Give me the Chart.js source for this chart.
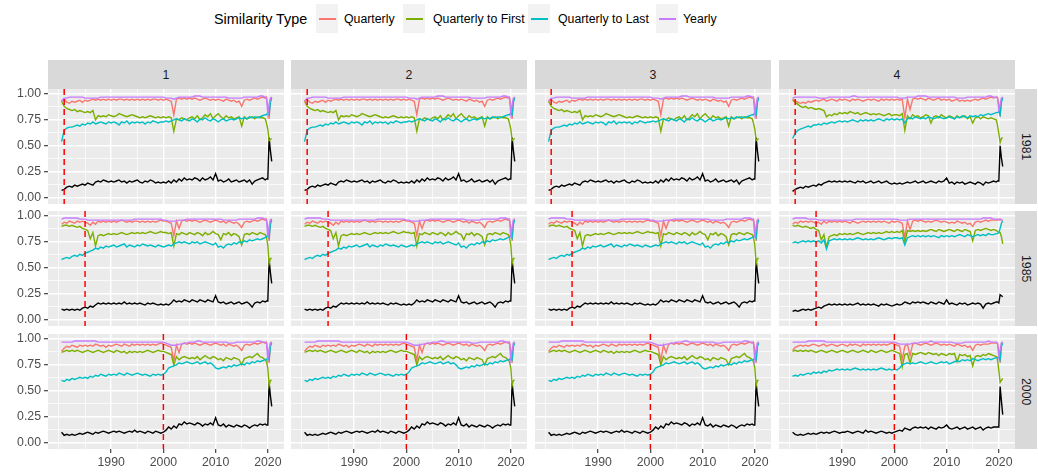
<!DOCTYPE html>
<html>
<head>
<meta charset="utf-8">
<script src="https://cdn.jsdelivr.net/npm/chart.js@4.4.0/dist/chart.umd.min.js"></script>
<style>
  body { margin: 0; width: 1038px; height: 474px; background: #fff; position: relative; overflow: hidden;
         font-family: "Liberation Sans", Arial, sans-serif; }
  canvas { position: absolute; }
  .strip { position: absolute; background: #D9D9D9; color: #1A1A1A; font-size: 12.3px;
           display: flex; align-items: center; justify-content: center; }
  .vtext { writing-mode: vertical-rl; }
  .key { position: absolute; top: 4px; width: 22px; height: 29px; background: #F2F2F2; }
  .key span { position: absolute; left: 3px; width: 17px; top: 14px; height: 1.5px; }
  .lab { position: absolute; top: 10px; font-size: 12.3px; line-height: 18px; color: #000; white-space: nowrap; }
</style>
</head>
<body>
<div class="lab" style="left:214px;top:8px;font-size:14.4px;line-height:22px;">Similarity Type</div>
<div id="legend"></div>
<script>
// Zeitachse: Halbjahre 1980.5 - 2019.5, dann Quartale bis 2020.75
const periods = [];
for (let y = 1980.5; y <= 2019.5; y += 0.5) periods.push(y);
periods.push(2019.75, 2020, 2020.25, 2020.5, 2020.75);

const colLabels = ['1', '2', '3', '4'];
const rowLabels = ['1981', '1985', '2000'];
const breakYears = [1981, 1985, 2000];
const seriesNames = ['Quarterly', 'Quarterly to First', 'Quarterly to Last', 'Yearly'];
const seriesColors = ['#F8766D', '#7CAE00', '#00BFC4', '#C77CFF'];
const xTicks = [1980, 1985, 1990, 1995, 2000, 2005, 2010, 2015, 2020];
const xLabelTicks = [1990, 2000, 2010, 2020];
const yTicks = [0, 0.125, 0.25, 0.375, 0.5, 0.625, 0.75, 0.875, 1];
const yLabelTicks = [0, 0.25, 0.5, 0.75, 1];

// ---- Zeile 1981, Spalten 1-3 ----
const r1aQuarterly = [
  0.93, 0.95, 0.92, 0.91, 0.93, 0.92, 0.93, 0.94, 0.92, 0.94,
  0.93, 0.94, 0.95, 0.94, 0.95, 0.94, 0.95, 0.94, 0.95, 0.94,
  0.95, 0.94, 0.95, 0.95, 0.94, 0.95, 0.94, 0.95, 0.94, 0.95,
  0.94, 0.95, 0.94, 0.95, 0.94, 0.95, 0.95, 0.94, 0.95, 0.94,
  0.95, 0.94, 0.93, 0.80, 0.95, 0.96, 0.95, 0.96, 0.95, 0.96,
  0.95, 0.96, 0.95, 0.94, 0.95, 0.96, 0.95, 0.94, 0.95, 0.94,
  0.95, 0.94, 0.93, 0.95, 0.94, 0.93, 0.94, 0.92, 0.93, 0.88,
  0.94, 0.95, 0.94, 0.95, 0.96, 0.95, 0.96, 0.97, 0.96,
  0.97, 0.88, 0.76, 0.95, 0.97];
const r1aToFirst = [
  0.93, 0.88, 0.86, 0.85, 0.84, 0.85, 0.83, 0.84, 0.83, 0.82,
  0.83, 0.82, 0.84, 0.75, 0.79, 0.78, 0.79, 0.78, 0.80, 0.79,
  0.78, 0.79, 0.81, 0.80, 0.79, 0.78, 0.79, 0.80, 0.79, 0.78,
  0.77, 0.78, 0.77, 0.78, 0.79, 0.78, 0.77, 0.78, 0.77, 0.78,
  0.77, 0.78, 0.77, 0.64, 0.76, 0.75, 0.77, 0.76, 0.75, 0.77,
  0.78, 0.76, 0.79, 0.75, 0.77, 0.80, 0.78, 0.81, 0.76, 0.79,
  0.81, 0.78, 0.76, 0.79, 0.77, 0.78, 0.76, 0.77, 0.78, 0.69,
  0.78, 0.76, 0.77, 0.78, 0.76, 0.78, 0.77, 0.77, 0.76,
  0.72, 0.66, 0.55, 0.56, 0.57];
const r1aToLast = [
  0.54, 0.65, 0.67, 0.68, 0.68, 0.69, 0.70, 0.69, 0.71, 0.70,
  0.72, 0.71, 0.73, 0.71, 0.72, 0.73, 0.72, 0.71, 0.73, 0.72,
  0.73, 0.72, 0.70, 0.73, 0.72, 0.74, 0.71, 0.73, 0.72, 0.73,
  0.72, 0.73, 0.71, 0.73, 0.72, 0.74, 0.73, 0.72, 0.73, 0.73,
  0.74, 0.73, 0.74, 0.75, 0.76, 0.75, 0.74, 0.76, 0.75, 0.74,
  0.76, 0.75, 0.73, 0.76, 0.75, 0.77, 0.75, 0.74, 0.76, 0.75,
  0.73, 0.75, 0.76, 0.74, 0.75, 0.76, 0.75, 0.76, 0.77, 0.76,
  0.77, 0.76, 0.78, 0.77, 0.78, 0.77, 0.78, 0.79, 0.80,
  0.80, 0.82, 0.80, 0.92, 0.96];
const r1aYearly = [
  0.93, 0.96, 0.96, 0.97, 0.97, 0.97, 0.97, 0.97, 0.97, 0.96,
  0.96, 0.96, 0.96, 0.96, 0.96, 0.97, 0.97, 0.97, 0.97, 0.97,
  0.97, 0.97, 0.97, 0.97, 0.97, 0.97, 0.97, 0.97, 0.97, 0.97,
  0.97, 0.97, 0.97, 0.97, 0.97, 0.97, 0.97, 0.97, 0.97, 0.97,
  0.96, 0.96, 0.96, 0.95, 0.96, 0.97, 0.97, 0.97, 0.97, 0.97,
  0.97, 0.98, 0.98, 0.98, 0.97, 0.97, 0.97, 0.97, 0.97, 0.97,
  0.97, 0.97, 0.97, 0.97, 0.96, 0.96, 0.96, 0.96, 0.96, 0.96,
  0.97, 0.97, 0.97, 0.97, 0.97, 0.97, 0.98, 0.98, 0.97,
  0.96, 0.81, 0.90, 0.96, 0.97];
const r1aBlack = [
  0.07, 0.08, 0.10, 0.11, 0.10, 0.12, 0.11, 0.12, 0.13, 0.12,
  0.14, 0.13, 0.12, 0.15, 0.16, 0.15, 0.17, 0.16, 0.15, 0.16,
  0.15, 0.16, 0.17, 0.15, 0.16, 0.14, 0.16, 0.15, 0.16, 0.17,
  0.15, 0.14, 0.16, 0.15, 0.17, 0.16, 0.14, 0.15, 0.14, 0.15,
  0.14, 0.16, 0.14, 0.17, 0.15, 0.18, 0.16, 0.19, 0.17, 0.18,
  0.17, 0.19, 0.18, 0.16, 0.19, 0.17, 0.18, 0.20, 0.17, 0.23,
  0.16, 0.17, 0.15, 0.16, 0.18, 0.15, 0.16, 0.17, 0.15, 0.16,
  0.17, 0.15, 0.17, 0.13, 0.16, 0.17, 0.18, 0.19, 0.17,
  0.18, 0.18, 0.58, 0.45, 0.35];

// ---- Zeile 1981, Spalte 4 ----
const r1bQuarterly = [
  0.95, 0.93, 0.92, 0.91, 0.92, 0.91, 0.93, 0.92, 0.93, 0.94,
  0.93, 0.94, 0.95, 0.93, 0.94, 0.95, 0.94, 0.93, 0.95, 0.94,
  0.95, 0.94, 0.93, 0.95, 0.94, 0.95, 0.94, 0.93, 0.94, 0.95,
  0.94, 0.95, 0.94, 0.93, 0.95, 0.94, 0.95, 0.94, 0.95, 0.94,
  0.95, 0.94, 0.95, 0.77, 0.95, 0.85, 0.95, 0.96, 0.95, 0.96,
  0.95, 0.94, 0.96, 0.95, 0.94, 0.95, 0.96, 0.94, 0.95, 0.94,
  0.95, 0.93, 0.94, 0.95, 0.93, 0.94, 0.93, 0.94, 0.93, 0.94,
  0.95, 0.94, 0.95, 0.96, 0.95, 0.96, 0.97, 0.96, 0.97,
  0.97, 0.90, 0.78, 0.95, 0.97];
const r1bToFirst = [
  0.94, 0.92, 0.90, 0.88, 0.87, 0.88, 0.86, 0.87, 0.86, 0.85,
  0.86, 0.85, 0.84, 0.78, 0.80, 0.79, 0.81, 0.80, 0.82, 0.81,
  0.82, 0.81, 0.83, 0.82, 0.81, 0.82, 0.80, 0.81, 0.82, 0.81,
  0.80, 0.81, 0.80, 0.81, 0.80, 0.79, 0.80, 0.81, 0.79, 0.80,
  0.80, 0.79, 0.81, 0.65, 0.79, 0.76, 0.80, 0.78, 0.79, 0.77,
  0.78, 0.80, 0.79, 0.72, 0.78, 0.79, 0.77, 0.80, 0.78, 0.77,
  0.79, 0.78, 0.76, 0.79, 0.77, 0.78, 0.79, 0.76, 0.78, 0.72,
  0.77, 0.78, 0.76, 0.78, 0.77, 0.76, 0.77, 0.76, 0.75,
  0.70, 0.62, 0.53, 0.57, 0.58];
const r1bToLast = [
  0.57, 0.62, 0.65, 0.66, 0.67, 0.68, 0.69, 0.68, 0.70, 0.70,
  0.71, 0.70, 0.72, 0.71, 0.72, 0.73, 0.72, 0.73, 0.74, 0.73,
  0.74, 0.73, 0.74, 0.75, 0.74, 0.73, 0.75, 0.74, 0.75, 0.74,
  0.75, 0.74, 0.75, 0.76, 0.75, 0.74, 0.76, 0.75, 0.76, 0.75,
  0.76, 0.75, 0.76, 0.72, 0.76, 0.77, 0.76, 0.78, 0.77, 0.76,
  0.77, 0.76, 0.78, 0.77, 0.76, 0.77, 0.78, 0.77, 0.76, 0.77,
  0.78, 0.77, 0.76, 0.78, 0.77, 0.79, 0.78, 0.77, 0.79, 0.78,
  0.79, 0.78, 0.80, 0.79, 0.80, 0.81, 0.80, 0.81, 0.82,
  0.82, 0.83, 0.80, 0.92, 0.96];
const r1bYearly = [
  0.96, 0.97, 0.97, 0.97, 0.97, 0.97, 0.97, 0.97, 0.97, 0.97,
  0.96, 0.96, 0.96, 0.96, 0.97, 0.97, 0.97, 0.97, 0.97, 0.97,
  0.97, 0.97, 0.97, 0.98, 0.98, 0.97, 0.97, 0.97, 0.97, 0.97,
  0.97, 0.97, 0.97, 0.97, 0.97, 0.97, 0.97, 0.97, 0.97, 0.97,
  0.97, 0.96, 0.96, 0.96, 0.97, 0.97, 0.97, 0.97, 0.98, 0.98,
  0.98, 0.98, 0.97, 0.97, 0.97, 0.97, 0.97, 0.97, 0.97, 0.97,
  0.97, 0.97, 0.97, 0.96, 0.96, 0.96, 0.96, 0.97, 0.97, 0.97,
  0.97, 0.97, 0.97, 0.97, 0.97, 0.98, 0.98, 0.97, 0.97,
  0.96, 0.85, 0.90, 0.96, 0.97];
const r1bBlack = [
  0.06, 0.08, 0.09, 0.10, 0.09, 0.11, 0.10, 0.11, 0.12, 0.11,
  0.13, 0.12, 0.14, 0.15, 0.16, 0.15, 0.16, 0.15, 0.16, 0.15,
  0.16, 0.15, 0.16, 0.15, 0.14, 0.16, 0.15, 0.16, 0.14, 0.15,
  0.16, 0.14, 0.15, 0.16, 0.14, 0.15, 0.16, 0.14, 0.13, 0.14,
  0.13, 0.14, 0.13, 0.14, 0.15, 0.14, 0.15, 0.16, 0.14, 0.15,
  0.16, 0.14, 0.15, 0.16, 0.15, 0.14, 0.16, 0.15, 0.16, 0.19,
  0.14, 0.15, 0.13, 0.15, 0.14, 0.15, 0.13, 0.14, 0.15, 0.14,
  0.13, 0.15, 0.14, 0.12, 0.15, 0.14, 0.15, 0.16, 0.15,
  0.16, 0.16, 0.50, 0.38, 0.30];

// ---- Zeile 1985, Spalten 1-3 ----
const r2aQuarterly = [
  0.92, 0.94, 0.93, 0.95, 0.94, 0.93, 0.95, 0.94, 0.95, 0.94,
  0.93, 0.91, 0.94, 0.92, 0.95, 0.94, 0.95, 0.94, 0.95, 0.94,
  0.95, 0.94, 0.95, 0.96, 0.95, 0.94, 0.95, 0.94, 0.95, 0.95,
  0.94, 0.95, 0.94, 0.95, 0.94, 0.95, 0.94, 0.95, 0.96, 0.95,
  0.95, 0.94, 0.93, 0.81, 0.95, 0.88, 0.95, 0.96, 0.95, 0.96,
  0.95, 0.96, 0.95, 0.94, 0.95, 0.96, 0.95, 0.94, 0.95, 0.96,
  0.95, 0.94, 0.95, 0.93, 0.95, 0.94, 0.93, 0.94, 0.92, 0.89,
  0.94, 0.95, 0.94, 0.95, 0.96, 0.95, 0.96, 0.97, 0.96,
  0.97, 0.88, 0.76, 0.96, 0.97];
const r2aToFirst = [
  0.90, 0.91, 0.91, 0.90, 0.91, 0.90, 0.89, 0.90, 0.88, 0.87,
  0.86, 0.78, 0.84, 0.71, 0.81, 0.82, 0.81, 0.82, 0.83, 0.82,
  0.83, 0.82, 0.83, 0.84, 0.83, 0.82, 0.83, 0.84, 0.83, 0.84,
  0.83, 0.84, 0.83, 0.84, 0.85, 0.84, 0.83, 0.84, 0.85, 0.84,
  0.84, 0.83, 0.84, 0.71, 0.83, 0.82, 0.84, 0.83, 0.82, 0.84,
  0.83, 0.82, 0.84, 0.83, 0.81, 0.84, 0.82, 0.83, 0.85, 0.83,
  0.82, 0.77, 0.83, 0.82, 0.84, 0.81, 0.83, 0.82, 0.80, 0.72,
  0.82, 0.83, 0.82, 0.84, 0.83, 0.82, 0.84, 0.83, 0.82,
  0.79, 0.72, 0.54, 0.59, 0.59];
const r2aToLast = [
  0.58, 0.59, 0.60, 0.59, 0.61, 0.62, 0.61, 0.63, 0.62, 0.64,
  0.65, 0.66, 0.67, 0.69, 0.68, 0.70, 0.69, 0.71, 0.70, 0.71,
  0.72, 0.70, 0.71, 0.72, 0.73, 0.70, 0.72, 0.71, 0.70, 0.72,
  0.71, 0.73, 0.72, 0.71, 0.72, 0.71, 0.70, 0.72, 0.71, 0.70,
  0.71, 0.72, 0.71, 0.73, 0.74, 0.75, 0.74, 0.75, 0.74, 0.73,
  0.75, 0.74, 0.75, 0.73, 0.74, 0.75, 0.74, 0.73, 0.72, 0.74,
  0.70, 0.71, 0.69, 0.72, 0.73, 0.72, 0.74, 0.73, 0.75, 0.74,
  0.76, 0.75, 0.77, 0.76, 0.77, 0.78, 0.77, 0.78, 0.79,
  0.80, 0.82, 0.79, 0.92, 0.96];
const r2aYearly = [
  0.97, 0.98, 0.98, 0.98, 0.98, 0.98, 0.98, 0.97, 0.97, 0.97,
  0.96, 0.96, 0.96, 0.96, 0.96, 0.96, 0.96, 0.96, 0.96, 0.96,
  0.96, 0.96, 0.96, 0.96, 0.96, 0.96, 0.96, 0.96, 0.97, 0.97,
  0.97, 0.97, 0.97, 0.97, 0.97, 0.97, 0.97, 0.97, 0.97, 0.96,
  0.96, 0.95, 0.95, 0.95, 0.95, 0.96, 0.96, 0.96, 0.97, 0.97,
  0.97, 0.97, 0.97, 0.97, 0.97, 0.97, 0.97, 0.97, 0.97, 0.97,
  0.97, 0.97, 0.96, 0.96, 0.96, 0.96, 0.96, 0.96, 0.97, 0.97,
  0.97, 0.97, 0.97, 0.97, 0.97, 0.98, 0.98, 0.98, 0.97,
  0.96, 0.79, 0.90, 0.96, 0.97];
const r2aBlack = [
  0.10, 0.09, 0.10, 0.09, 0.10, 0.09, 0.10, 0.09, 0.11, 0.12,
  0.11, 0.13, 0.12, 0.14, 0.16, 0.15, 0.16, 0.15, 0.16, 0.15,
  0.16, 0.15, 0.16, 0.15, 0.17, 0.15, 0.16, 0.15, 0.16, 0.15,
  0.16, 0.15, 0.14, 0.16, 0.15, 0.16, 0.15, 0.14, 0.15, 0.14,
  0.15, 0.14, 0.16, 0.19, 0.17, 0.18, 0.17, 0.19, 0.18, 0.17,
  0.19, 0.18, 0.17, 0.19, 0.18, 0.17, 0.19, 0.18, 0.17, 0.23,
  0.17, 0.16, 0.17, 0.15, 0.16, 0.17, 0.15, 0.16, 0.17, 0.15,
  0.16, 0.17, 0.15, 0.12, 0.16, 0.17, 0.16, 0.18, 0.17,
  0.18, 0.18, 0.58, 0.45, 0.35];

// ---- Zeile 1985, Spalte 4 ----
const r2bQuarterly = [
  0.92, 0.94, 0.93, 0.95, 0.94, 0.95, 0.94, 0.95, 0.94, 0.93,
  0.94, 0.92, 0.95, 0.93, 0.95, 0.94, 0.95, 0.94, 0.95, 0.94,
  0.95, 0.94, 0.93, 0.95, 0.94, 0.93, 0.94, 0.95, 0.94, 0.95,
  0.94, 0.95, 0.94, 0.95, 0.94, 0.95, 0.94, 0.93, 0.95, 0.94,
  0.95, 0.94, 0.93, 0.79, 0.95, 0.87, 0.95, 0.96, 0.95, 0.96,
  0.95, 0.94, 0.95, 0.94, 0.95, 0.96, 0.95, 0.94, 0.95, 0.94,
  0.93, 0.94, 0.93, 0.95, 0.94, 0.93, 0.94, 0.92, 0.93, 0.90,
  0.94, 0.95, 0.94, 0.95, 0.96, 0.95, 0.96, 0.96, 0.96,
  0.96, 0.96, 0.97, 0.96, 0.96];
const r2bToFirst = [
  0.91, 0.90, 0.91, 0.90, 0.89, 0.90, 0.89, 0.88, 0.89, 0.87,
  0.86, 0.77, 0.82, 0.70, 0.80, 0.81, 0.82, 0.81, 0.83, 0.82,
  0.83, 0.82, 0.83, 0.82, 0.83, 0.84, 0.83, 0.82, 0.83, 0.84,
  0.83, 0.84, 0.83, 0.84, 0.83, 0.84, 0.85, 0.84, 0.85, 0.84,
  0.85, 0.84, 0.86, 0.75, 0.86, 0.85, 0.86, 0.85, 0.86, 0.85,
  0.86, 0.85, 0.86, 0.87, 0.86, 0.85, 0.87, 0.86, 0.85, 0.86,
  0.87, 0.86, 0.85, 0.87, 0.86, 0.85, 0.87, 0.86, 0.85, 0.76,
  0.86, 0.87, 0.86, 0.87, 0.88, 0.87, 0.86, 0.87, 0.86,
  0.85, 0.84, 0.84, 0.80, 0.73];
const r2bToLast = [
  0.74, 0.75, 0.74, 0.75, 0.76, 0.75, 0.76, 0.75, 0.76, 0.75,
  0.76, 0.74, 0.77, 0.68, 0.76, 0.77, 0.78, 0.77, 0.78, 0.77,
  0.78, 0.77, 0.78, 0.77, 0.78, 0.79, 0.78, 0.77, 0.78, 0.77,
  0.78, 0.77, 0.78, 0.79, 0.78, 0.77, 0.78, 0.79, 0.78, 0.79,
  0.79, 0.78, 0.79, 0.72, 0.79, 0.80, 0.81, 0.80, 0.81, 0.80,
  0.81, 0.80, 0.81, 0.80, 0.81, 0.80, 0.79, 0.81, 0.80, 0.81,
  0.80, 0.81, 0.80, 0.81, 0.82, 0.81, 0.80, 0.82, 0.81, 0.80,
  0.81, 0.82, 0.81, 0.82, 0.81, 0.83, 0.82, 0.82, 0.83,
  0.83, 0.84, 0.88, 0.93, 0.95];
const r2bYearly = [
  0.97, 0.98, 0.98, 0.98, 0.98, 0.98, 0.97, 0.97, 0.97, 0.97,
  0.96, 0.96, 0.96, 0.96, 0.96, 0.96, 0.96, 0.96, 0.96, 0.96,
  0.96, 0.96, 0.96, 0.96, 0.97, 0.97, 0.97, 0.97, 0.97, 0.97,
  0.97, 0.97, 0.97, 0.97, 0.97, 0.97, 0.97, 0.97, 0.97, 0.97,
  0.97, 0.96, 0.96, 0.96, 0.96, 0.97, 0.97, 0.97, 0.97, 0.97,
  0.97, 0.97, 0.97, 0.97, 0.97, 0.97, 0.97, 0.97, 0.97, 0.97,
  0.97, 0.97, 0.97, 0.97, 0.97, 0.97, 0.97, 0.97, 0.97, 0.97,
  0.97, 0.97, 0.97, 0.98, 0.98, 0.98, 0.98, 0.97, 0.97,
  0.97, 0.97, 0.97, 0.96, 0.96];
const r2bBlack = [
  0.08, 0.09, 0.08, 0.09, 0.10, 0.09, 0.10, 0.09, 0.10, 0.11,
  0.12, 0.11, 0.13, 0.14, 0.15, 0.14, 0.15, 0.14, 0.15, 0.14,
  0.15, 0.14, 0.15, 0.14, 0.15, 0.16, 0.14, 0.15, 0.14, 0.15,
  0.14, 0.15, 0.14, 0.13, 0.15, 0.14, 0.15, 0.14, 0.13, 0.14,
  0.15, 0.14, 0.15, 0.17, 0.16, 0.15, 0.17, 0.16, 0.17, 0.16,
  0.17, 0.16, 0.15, 0.17, 0.16, 0.15, 0.17, 0.16, 0.15, 0.19,
  0.15, 0.16, 0.15, 0.14, 0.16, 0.15, 0.16, 0.14, 0.15, 0.16,
  0.15, 0.16, 0.15, 0.11, 0.15, 0.16, 0.15, 0.16, 0.17,
  0.17, 0.16, 0.24, 0.23, 0.22];

// ---- Zeile 2000, Spalten 1-3 ----
const r3aQuarterly = [
  0.88, 0.91, 0.93, 0.92, 0.94, 0.93, 0.92, 0.94, 0.93, 0.94,
  0.93, 0.94, 0.93, 0.95, 0.94, 0.93, 0.94, 0.92, 0.94, 0.93,
  0.94, 0.95, 0.94, 0.93, 0.95, 0.94, 0.93, 0.95, 0.94, 0.95,
  0.94, 0.95, 0.94, 0.95, 0.94, 0.95, 0.94, 0.95, 0.96, 0.95,
  0.94, 0.93, 0.92, 0.79, 0.94, 0.87, 0.95, 0.96, 0.95, 0.96,
  0.95, 0.96, 0.95, 0.94, 0.95, 0.96, 0.95, 0.94, 0.95, 0.96,
  0.95, 0.94, 0.95, 0.93, 0.95, 0.94, 0.93, 0.94, 0.92, 0.89,
  0.94, 0.95, 0.94, 0.95, 0.96, 0.95, 0.96, 0.97, 0.96,
  0.97, 0.88, 0.77, 0.96, 0.97];
const r3aToFirst = [
  0.87, 0.88, 0.89, 0.88, 0.89, 0.88, 0.89, 0.88, 0.87, 0.88,
  0.89, 0.88, 0.87, 0.88, 0.89, 0.88, 0.87, 0.88, 0.89, 0.88,
  0.87, 0.89, 0.88, 0.87, 0.88, 0.86, 0.88, 0.87, 0.88, 0.87,
  0.88, 0.87, 0.88, 0.89, 0.88, 0.87, 0.88, 0.89, 0.88, 0.88,
  0.87, 0.86, 0.85, 0.75, 0.83, 0.80, 0.82, 0.83, 0.82, 0.81,
  0.82, 0.81, 0.83, 0.80, 0.82, 0.84, 0.82, 0.81, 0.83, 0.82,
  0.80, 0.81, 0.79, 0.82, 0.81, 0.80, 0.82, 0.81, 0.80, 0.75,
  0.81, 0.82, 0.83, 0.82, 0.84, 0.86, 0.83, 0.82, 0.80,
  0.78, 0.72, 0.55, 0.60, 0.60];
const r3aToLast = [
  0.60, 0.59, 0.61, 0.60, 0.62, 0.61, 0.62, 0.63, 0.62, 0.63,
  0.62, 0.64, 0.63, 0.65, 0.64, 0.66, 0.65, 0.64, 0.66, 0.65,
  0.66, 0.65, 0.67, 0.66, 0.65, 0.67, 0.66, 0.65, 0.66, 0.67,
  0.66, 0.65, 0.66, 0.65, 0.64, 0.66, 0.65, 0.66, 0.65, 0.66,
  0.68, 0.72, 0.73, 0.74, 0.75, 0.77, 0.76, 0.77, 0.78, 0.77,
  0.76, 0.77, 0.78, 0.76, 0.77, 0.78, 0.76, 0.77, 0.75, 0.72,
  0.71, 0.72, 0.73, 0.72, 0.74, 0.73, 0.75, 0.74, 0.75, 0.76,
  0.75, 0.77, 0.76, 0.78, 0.77, 0.79, 0.78, 0.79, 0.80,
  0.80, 0.82, 0.80, 0.93, 0.96];
const r3aYearly = [
  0.97, 0.97, 0.97, 0.97, 0.97, 0.98, 0.98, 0.98, 0.98, 0.98,
  0.98, 0.98, 0.98, 0.98, 0.97, 0.97, 0.97, 0.97, 0.97, 0.97,
  0.97, 0.97, 0.97, 0.97, 0.97, 0.97, 0.97, 0.97, 0.97, 0.97,
  0.97, 0.97, 0.97, 0.97, 0.97, 0.97, 0.97, 0.97, 0.97, 0.97,
  0.96, 0.95, 0.94, 0.94, 0.94, 0.95, 0.95, 0.96, 0.96, 0.97,
  0.97, 0.97, 0.98, 0.98, 0.97, 0.97, 0.97, 0.97, 0.97, 0.97,
  0.97, 0.97, 0.97, 0.97, 0.96, 0.96, 0.96, 0.97, 0.97, 0.97,
  0.97, 0.97, 0.97, 0.97, 0.97, 0.98, 0.98, 0.97, 0.97,
  0.96, 0.80, 0.90, 0.96, 0.97];
const r3aBlack = [
  0.10, 0.07, 0.08, 0.07, 0.08, 0.07, 0.08, 0.09, 0.08, 0.09,
  0.10, 0.09, 0.08, 0.10, 0.09, 0.10, 0.11, 0.10, 0.09, 0.10,
  0.11, 0.10, 0.11, 0.10, 0.09, 0.10, 0.11, 0.10, 0.12, 0.10,
  0.11, 0.10, 0.09, 0.11, 0.10, 0.09, 0.11, 0.10, 0.09, 0.10,
  0.12, 0.15, 0.13, 0.16, 0.14, 0.18, 0.17, 0.20, 0.18, 0.19,
  0.18, 0.17, 0.19, 0.18, 0.16, 0.18, 0.17, 0.19, 0.17, 0.24,
  0.17, 0.16, 0.18, 0.15, 0.17, 0.16, 0.15, 0.17, 0.16, 0.15,
  0.17, 0.16, 0.14, 0.16, 0.17, 0.16, 0.18, 0.17, 0.18,
  0.17, 0.17, 0.58, 0.45, 0.35];

// ---- Zeile 2000, Spalte 4 ----
const r3bQuarterly = [
  0.89, 0.92, 0.93, 0.94, 0.93, 0.94, 0.93, 0.94, 0.95, 0.94,
  0.93, 0.94, 0.95, 0.93, 0.94, 0.95, 0.94, 0.93, 0.94, 0.95,
  0.94, 0.93, 0.95, 0.94, 0.95, 0.94, 0.93, 0.95, 0.94, 0.95,
  0.94, 0.95, 0.94, 0.95, 0.94, 0.95, 0.94, 0.95, 0.96, 0.95,
  0.94, 0.93, 0.80, 0.93, 0.95, 0.84, 0.95, 0.96, 0.95, 0.94,
  0.95, 0.96, 0.95, 0.94, 0.95, 0.96, 0.95, 0.94, 0.95, 0.94,
  0.95, 0.94, 0.93, 0.95, 0.94, 0.93, 0.94, 0.92, 0.93, 0.89,
  0.94, 0.95, 0.94, 0.95, 0.95, 0.95, 0.96, 0.96, 0.96,
  0.96, 0.88, 0.77, 0.96, 0.97];
const r3bToFirst = [
  0.88, 0.89, 0.88, 0.89, 0.88, 0.89, 0.88, 0.89, 0.88, 0.87,
  0.88, 0.89, 0.88, 0.87, 0.88, 0.89, 0.88, 0.87, 0.88, 0.89,
  0.88, 0.87, 0.88, 0.89, 0.88, 0.87, 0.88, 0.89, 0.88, 0.87,
  0.89, 0.88, 0.87, 0.88, 0.89, 0.88, 0.87, 0.88, 0.89, 0.88,
  0.87, 0.86, 0.73, 0.85, 0.86, 0.77, 0.86, 0.85, 0.86, 0.87,
  0.86, 0.85, 0.87, 0.86, 0.85, 0.86, 0.84, 0.86, 0.85, 0.84,
  0.86, 0.85, 0.86, 0.78, 0.85, 0.84, 0.85, 0.83, 0.84, 0.74,
  0.83, 0.84, 0.83, 0.85, 0.84, 0.86, 0.85, 0.84, 0.83,
  0.80, 0.70, 0.58, 0.60, 0.62];
const r3bToLast = [
  0.64, 0.65, 0.64, 0.66, 0.65, 0.66, 0.67, 0.66, 0.68, 0.67,
  0.68, 0.67, 0.69, 0.68, 0.70, 0.69, 0.70, 0.71, 0.70, 0.71,
  0.70, 0.71, 0.70, 0.71, 0.72, 0.71, 0.70, 0.71, 0.70, 0.71,
  0.70, 0.71, 0.70, 0.71, 0.72, 0.71, 0.70, 0.71, 0.70, 0.71,
  0.70, 0.72, 0.75, 0.76, 0.77, 0.76, 0.77, 0.76, 0.77, 0.78,
  0.77, 0.76, 0.77, 0.78, 0.77, 0.76, 0.77, 0.78, 0.77, 0.78,
  0.76, 0.77, 0.78, 0.79, 0.78, 0.80, 0.79, 0.80, 0.79, 0.81,
  0.80, 0.79, 0.80, 0.81, 0.80, 0.81, 0.80, 0.81, 0.82,
  0.82, 0.83, 0.80, 0.93, 0.96];
const r3bYearly = [
  0.97, 0.97, 0.97, 0.97, 0.97, 0.97, 0.98, 0.98, 0.98, 0.98,
  0.98, 0.98, 0.98, 0.97, 0.97, 0.97, 0.97, 0.97, 0.97, 0.97,
  0.97, 0.97, 0.97, 0.97, 0.97, 0.97, 0.97, 0.97, 0.97, 0.97,
  0.97, 0.97, 0.97, 0.97, 0.97, 0.97, 0.97, 0.97, 0.97, 0.97,
  0.96, 0.95, 0.95, 0.95, 0.95, 0.95, 0.96, 0.96, 0.96, 0.97,
  0.97, 0.97, 0.97, 0.98, 0.97, 0.97, 0.97, 0.97, 0.97, 0.97,
  0.97, 0.97, 0.96, 0.96, 0.96, 0.96, 0.97, 0.97, 0.97, 0.97,
  0.97, 0.97, 0.97, 0.97, 0.97, 0.98, 0.97, 0.97, 0.97,
  0.96, 0.83, 0.90, 0.96, 0.97];
const r3bBlack = [
  0.10, 0.08, 0.07, 0.08, 0.07, 0.08, 0.09, 0.08, 0.09, 0.08,
  0.09, 0.10, 0.09, 0.10, 0.09, 0.10, 0.11, 0.10, 0.09, 0.10,
  0.10, 0.11, 0.10, 0.09, 0.10, 0.11, 0.10, 0.09, 0.12, 0.10,
  0.11, 0.10, 0.09, 0.10, 0.11, 0.10, 0.09, 0.10, 0.09, 0.10,
  0.11, 0.12, 0.11, 0.14, 0.13, 0.12, 0.14, 0.15, 0.14, 0.15,
  0.14, 0.15, 0.13, 0.15, 0.14, 0.13, 0.15, 0.14, 0.15, 0.17,
  0.14, 0.13, 0.14, 0.15, 0.13, 0.14, 0.15, 0.13, 0.14, 0.15,
  0.13, 0.14, 0.15, 0.12, 0.14, 0.15, 0.14, 0.15, 0.15,
  0.15, 0.15, 0.54, 0.40, 0.27];

// Spalten 1-3 einer Zeile teilen sich die Werte, Spalte 4 hat eigene
const rowSets = [
  [[r1aQuarterly, r1aToFirst, r1aToLast, r1aYearly, r1aBlack], [r1bQuarterly, r1bToFirst, r1bToLast, r1bYearly, r1bBlack]],
  [[r2aQuarterly, r2aToFirst, r2aToLast, r2aYearly, r2aBlack], [r2bQuarterly, r2bToFirst, r2bToLast, r2bYearly, r2bBlack]],
  [[r3aQuarterly, r3aToFirst, r3aToLast, r3aYearly, r3aBlack], [r3bQuarterly, r3bToFirst, r3bToLast, r3bYearly, r3bBlack]]
];

// Prüfen, ob alle Reihen gleich lang sind
rowSets.forEach((row, r) => row.forEach((set, s) => set.forEach((arr, k) => {
  if (arr.length !== periods.length) throw new Error('Länge falsch: Zeile ' + r + ' Satz ' + s + ' Reihe ' + k + ' = ' + arr.length);
})));

// Layout der Facetten
const colLeft = [48, 291, 535, 779];
const panelW = 236;
const rowTop = [89, 211, 334];
const panelH = 115;
const axisLeftW = 48;
const axisBottomH = 25;
const padTop = 8; // Platz für das oberste Tick-Label
const xMin = 1977.9, xMax = 2023.1;
const yMin = -0.062, yMax = 1.048;
const fontFamily = '"Liberation Sans", Arial, sans-serif';

// Legende
const keyLeft = [316, 403, 528, 656];
const labLeft = [344, 433, 558, 683];
const legend = document.getElementById('legend');
seriesNames.forEach((name, i) => {
  const k = document.createElement('div');
  k.className = 'key';
  k.style.left = keyLeft[i] + 'px';
  k.innerHTML = '<span style="background:' + seriesColors[i] + '"></span>';
  legend.appendChild(k);
  const l = document.createElement('div');
  l.className = 'lab';
  l.style.left = labLeft[i] + 'px';
  l.textContent = name;
  legend.appendChild(l);
});

// Streifen oben und rechts
colLabels.forEach((t, c) => {
  const d = document.createElement('div');
  d.className = 'strip';
  Object.assign(d.style, { left: colLeft[c] + 'px', top: '60px', width: panelW + 'px', height: '29px' });
  d.textContent = t;
  document.body.appendChild(d);
});
rowLabels.forEach((t, r) => {
  const d = document.createElement('div');
  d.className = 'strip';
  Object.assign(d.style, { left: (colLeft[3] + panelW) + 'px', top: rowTop[r] + 'px', width: '22px', height: panelH + 'px' });
  d.innerHTML = '<span class="vtext">' + t + '</span>';
  document.body.appendChild(d);
});

const panelPlugin = {
  id: 'panel',
  beforeDraw(chart) {
    const { ctx, chartArea: a } = chart;
    ctx.save();
    ctx.fillStyle = '#EBEBEB';
    ctx.fillRect(a.left, a.top, a.right - a.left, a.bottom - a.top);
    ctx.restore();
  },
  afterDatasetsDraw(chart, args, opts) {
    const { ctx, chartArea: a } = chart;
    const x = chart.scales.x.getPixelForValue(opts.year);
    ctx.save();
    ctx.strokeStyle = '#FF0000';
    ctx.lineWidth = 1.5;
    ctx.setLineDash([6, 4]);
    ctx.beginPath();
    ctx.moveTo(x, a.top);
    ctx.lineTo(x, a.bottom);
    ctx.stroke();
    ctx.restore();
  }
};

const isMajorX = v => xLabelTicks.includes(v);
const isMajorY = v => yLabelTicks.includes(v);

function makePanel(r, c) {
  const set = rowSets[r][c < 3 ? 0 : 1];
  const left = c === 0;
  const bottom = r === 2;
  const canvas = document.createElement('canvas');
  const w = panelW + (left ? axisLeftW : 0);
  const h = padTop + panelH + (bottom ? axisBottomH : 0);
  canvas.width = w;
  canvas.height = h;
  canvas.style.left = (colLeft[c] - (left ? axisLeftW : 0)) + 'px';
  canvas.style.top = (rowTop[r] - padTop) + 'px';
  canvas.style.width = w + 'px';
  canvas.style.height = h + 'px';
  document.body.appendChild(canvas);

  const toPoints = arr => arr.map((v, i) => ({ x: periods[i], y: v }));
  const drawOrder = [3, 2, 1, 0]; // Yearly oben
  const datasets = drawOrder.map((k, n) => ({
    label: seriesNames[k],
    data: toPoints(set[k]),
    borderColor: seriesColors[k],
    borderWidth: 1.4,
    order: n
  }));
  datasets.push({ label: 'black', data: toPoints(set[4]), borderColor: '#000000', borderWidth: 1.4, order: 5 });

  const tickFont = { family: fontFamily, size: 12.3 };
  new Chart(canvas.getContext('2d'), {
    type: 'line',
    data: { datasets },
    options: {
      responsive: false,
      animation: false,
      events: [],
      layout: { padding: { top: padTop, left: 0, right: 0, bottom: 0 }, autoPadding: false },
      elements: { point: { radius: 0 }, line: { tension: 0 } },
      plugins: {
        legend: { display: false },
        tooltip: { enabled: false },
        panel: { year: breakYears[r] }
      },
      scales: {
        x: {
          type: 'linear', min: xMin, max: xMax,
          afterBuildTicks: s => { s.ticks = xTicks.map(v => ({ value: v })); },
          afterFit: s => {
            s.height = bottom ? axisBottomH : 0;
            s.paddingLeft = 0; s.paddingRight = 0;
          },
          border: { display: false },
          grid: {
            color: '#FFFFFF',
            lineWidth: ctx => isMajorX(ctx.tick.value) ? 1.4 : 0.7,
            drawTicks: bottom, tickLength: 4, tickWidth: 1.1,
            tickColor: ctx => isMajorX(ctx.tick.value) ? '#333333' : 'rgba(0,0,0,0)'
          },
          ticks: {
            display: bottom, autoSkip: false, maxRotation: 0, padding: 2,
            color: '#4D4D4D', font: tickFont,
            callback: v => isMajorX(v) ? String(v) : ''
          }
        },
        y: {
          type: 'linear', min: yMin, max: yMax,
          afterBuildTicks: s => { s.ticks = yTicks.map(v => ({ value: v })); },
          afterFit: s => {
            s.width = left ? axisLeftW : 0;
            s.paddingTop = 0; s.paddingBottom = 0;
          },
          border: { display: false },
          grid: {
            color: '#FFFFFF',
            lineWidth: ctx => isMajorY(ctx.tick.value) ? 1.4 : 0.7,
            drawTicks: left, tickLength: 4, tickWidth: 1.1,
            tickColor: ctx => isMajorY(ctx.tick.value) ? '#333333' : 'rgba(0,0,0,0)'
          },
          ticks: {
            display: left, autoSkip: false, padding: 3,
            color: '#4D4D4D', font: tickFont,
            callback: v => isMajorY(v) ? v.toFixed(2) : ''
          }
        }
      }
    },
    plugins: [panelPlugin]
  });
}

for (let r = 0; r < 3; r++) {
  for (let c = 0; c < 4; c++) makePanel(r, c);
}
</script>
</body>
</html>
